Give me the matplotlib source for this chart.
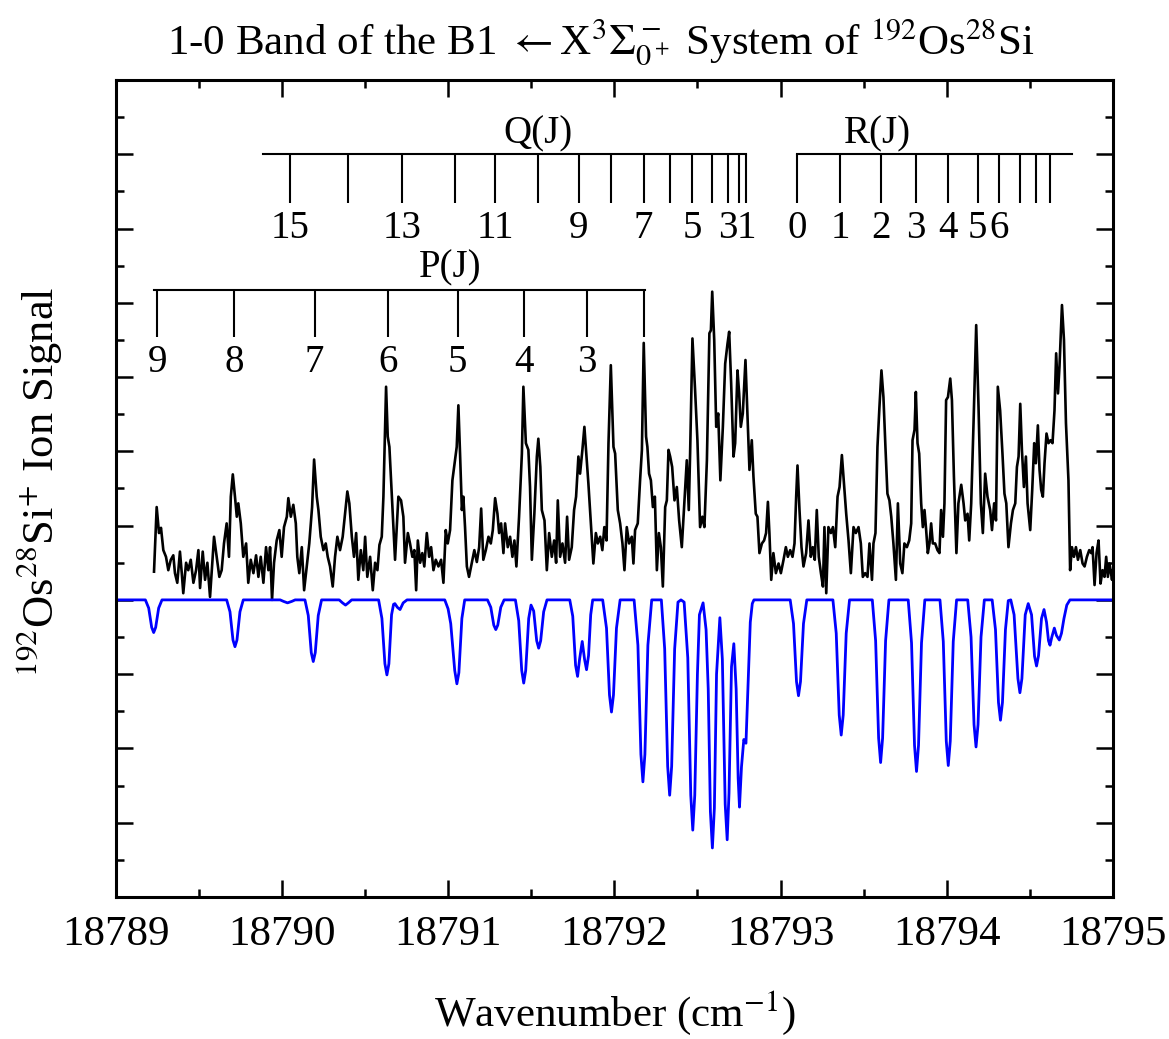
import matplotlib
matplotlib.use("Agg")
import matplotlib.pyplot as plt
from matplotlib.ticker import MultipleLocator, NullFormatter

EXP_X = [
    18789.231, 18789.247, 18789.261, 18789.273, 18789.287, 18789.303, 18789.317, 18789.332, 18789.347, 18789.357,
    18789.371, 18789.387, 18789.398, 18789.407, 18789.424, 18789.437, 18789.452, 18789.468, 18789.484, 18789.498,
    18789.508, 18789.524, 18789.538, 18789.552, 18789.568, 18789.580, 18789.592, 18789.608, 18789.624, 18789.638,
    18789.652, 18789.668, 18789.682, 18789.693, 18789.705, 18789.718, 18789.729, 18789.738, 18789.753, 18789.768,
    18789.785, 18789.798, 18789.813, 18789.829, 18789.845, 18789.859, 18789.873, 18789.889, 18789.905, 18789.919,
    18789.929, 18789.941, 18789.953, 18789.969, 18789.985, 18789.999, 18790.013, 18790.030, 18790.039, 18790.054,
    18790.069, 18790.084, 18790.093, 18790.105, 18790.120, 18790.134, 18790.150, 18790.165, 18790.182, 18790.194,
    18790.210, 18790.220, 18790.234, 18790.250, 18790.264, 18790.276, 18790.290, 18790.306, 18790.320, 18790.334,
    18790.350, 18790.366, 18790.380, 18790.394, 18790.406, 18790.421, 18790.434, 18790.447, 18790.460, 18790.475,
    18790.490, 18790.501, 18790.514, 18790.531, 18790.547, 18790.561, 18790.575, 18790.587, 18790.601, 18790.611,
    18790.627, 18790.637, 18790.647, 18790.661, 18790.681, 18790.701,
    18790.717, 18790.731, 18790.741, 18790.758, 18790.771, 18790.785, 18790.797, 18790.808, 18790.818, 18790.832,
    18790.845, 18790.857, 18790.872, 18790.886, 18790.898, 18790.912, 18790.926, 18790.942, 18790.958, 18790.972,
    18790.986, 18790.998, 18791.012, 18791.026, 18791.042, 18791.052, 18791.062, 18791.072, 18791.083, 18791.092,
    18791.102, 18791.113, 18791.126, 18791.143, 18791.158, 18791.173, 18791.187, 18791.199, 18791.212, 18791.227,
    18791.243, 18791.257, 18791.269, 18791.283, 18791.297, 18791.307, 18791.319, 18791.333, 18791.343, 18791.359,
    18791.373, 18791.387, 18791.399, 18791.411, 18791.427, 18791.444, 18791.453, 18791.468, 18791.483, 18791.493,
    18791.504, 18791.519, 18791.534, 18791.543, 18791.555, 18791.564, 18791.580, 18791.594, 18791.608, 18791.624,
    18791.638, 18791.650, 18791.660, 18791.674, 18791.688, 18791.704, 18791.716, 18791.728, 18791.744, 18791.758,
    18791.770, 18791.784, 18791.794, 18791.808, 18791.820, 18791.830, 18791.844, 18791.859, 18791.874, 18791.889,
    18791.901, 18791.915, 18791.928, 18791.940, 18791.953, 18791.965, 18791.979, 18791.995, 18792.005, 18792.021,
    18792.035, 18792.049, 18792.061, 18792.075, 18792.089, 18792.105, 18792.115, 18792.125, 18792.141, 18792.155,
    18792.166, 18792.177,
    18792.191, 18792.199, 18792.209, 18792.220, 18792.232, 18792.244, 18792.256, 18792.268, 18792.280, 18792.292,
    18792.306, 18792.316, 18792.326, 18792.336, 18792.348, 18792.362, 18792.376, 18792.390, 18792.406, 18792.420,
    18792.436, 18792.448, 18792.456, 18792.470, 18792.486, 18792.500, 18792.516, 18792.530, 18792.542, 18792.557,
    18792.572, 18792.581, 18792.589, 18792.601, 18792.613, 18792.625, 18792.638, 18792.653, 18792.667, 18792.681,
    18792.691, 18792.703, 18792.717, 18792.727, 18792.741, 18792.751, 18792.761, 18792.773, 18792.789, 18792.801,
    18792.813, 18792.827, 18792.837, 18792.851, 18792.861, 18792.873, 18792.888, 18792.901, 18792.913, 18792.924,
    18792.933, 18792.944, 18792.957, 18792.972, 18792.988, 18793.002, 18793.018, 18793.032, 18793.044, 18793.058,
    18793.072, 18793.084, 18793.094, 18793.102, 18793.114, 18793.126, 18793.138, 18793.154, 18793.168, 18793.182,
    18793.194, 18793.206, 18793.218, 18793.230, 18793.243, 18793.255, 18793.264, 18793.275, 18793.288, 18793.303,
    18793.315, 18793.329, 18793.343, 18793.355, 18793.369, 18793.383, 18793.395, 18793.409, 18793.423, 18793.439,
    18793.453, 18793.469, 18793.483, 18793.495, 18793.509, 18793.523, 18793.535, 18793.550, 18793.559, 18793.571,
    18793.583, 18793.595, 18793.607, 18793.619, 18793.631, 18793.643, 18793.655,
    18793.666, 18793.679, 18793.694, 18793.706, 18793.720, 18793.733, 18793.745, 18793.760, 18793.774, 18793.786,
    18793.794, 18793.806, 18793.814, 18793.824, 18793.834, 18793.846, 18793.856, 18793.866, 18793.876, 18793.886,
    18793.896, 18793.906, 18793.916, 18793.930, 18793.944, 18793.956, 18793.966, 18793.977, 18793.986, 18793.996,
    18794.007, 18794.021, 18794.031, 18794.043, 18794.058, 18794.070, 18794.087, 18794.101, 18794.111, 18794.125,
    18794.135, 18794.147, 18794.161, 18794.177, 18794.191, 18794.205, 18794.217, 18794.231, 18794.245, 18794.261,
    18794.272, 18794.285, 18794.296, 18794.307, 18794.321, 18794.335, 18794.347, 18794.358, 18794.371, 18794.386,
    18794.398, 18794.412, 18794.422, 18794.432, 18794.442, 18794.452, 18794.464, 18794.476, 18794.486, 18794.502,
    18794.514, 18794.526, 18794.536, 18794.548, 18794.558, 18794.568, 18794.578, 18794.588, 18794.600, 18794.612,
    18794.624, 18794.636, 18794.648, 18794.658, 18794.669, 18794.678, 18794.693, 18794.705, 18794.717, 18794.732,
    18794.742, 18794.753, 18794.765, 18794.777, 18794.789, 18794.803, 18794.817, 18794.829, 18794.843, 18794.857,
    18794.869, 18794.877, 18794.889, 18794.901, 18794.913, 18794.925, 18794.937, 18794.949, 18794.959, 18794.969,
    18794.979, 18794.994, 18795.000,
]
EXP_Y = [
    4.38, 5.25, 4.90, 4.97, 4.67, 4.58, 4.40, 4.54, 4.60, 4.36,
    4.23, 4.65, 4.36, 4.09, 4.50, 4.40, 4.54, 4.23, 4.40, 4.67,
    4.16, 4.65, 4.27, 4.50, 4.04, 4.45, 4.85, 4.58, 4.31, 4.40,
    4.76, 5.03, 4.58, 5.39, 5.69, 5.39, 5.12, 5.30, 5.03, 4.58,
    4.76, 4.23, 4.54, 4.36, 4.60, 4.31, 4.58, 4.23, 4.71, 4.40,
    4.71, 4.00, 4.50, 4.80, 4.94, 4.58, 4.98, 5.12, 5.37, 5.12,
    5.28, 5.03, 4.58, 4.36, 4.71, 4.13, 4.45, 4.76, 5.25, 5.89,
    5.39, 5.21, 4.85, 4.67, 4.76, 4.58, 4.45, 4.18, 4.58, 4.85,
    4.67, 4.85, 5.16, 5.46, 5.30, 4.85, 4.58, 4.90, 4.27, 4.67,
    4.40, 4.85, 4.31, 4.58, 4.13, 4.50, 4.40, 4.74, 4.85, 5.39,
    6.87, 6.20, 6.06, 5.43, 4.54, 5.39,
    5.34, 5.12, 4.50, 4.90, 4.76, 4.58, 4.67, 4.13, 4.80, 4.50,
    4.63, 4.45, 4.90, 4.58, 4.71, 4.40, 4.54, 4.45, 4.54, 4.23,
    4.94, 4.76, 4.94, 5.61, 5.88, 6.06, 6.62, 5.97, 5.21, 5.39,
    4.98, 4.45, 4.31, 4.50, 4.67, 4.51, 4.71, 5.23, 4.54, 4.67,
    4.85, 4.76, 4.94, 5.37, 5.16, 4.90, 5.03, 4.63, 5.03, 4.71,
    4.85, 4.58, 4.80, 4.45, 5.12, 5.97, 6.87, 6.11, 6.02, 5.52,
    4.54, 5.16, 5.93, 6.17, 5.79, 5.21, 5.07, 4.40, 4.90, 4.58,
    4.80, 4.50, 5.34, 4.58, 4.76, 4.50, 5.12, 4.54, 4.71, 5.21,
    5.39, 5.93, 5.70, 6.02, 6.33, 6.02, 5.57, 5.03, 4.49, 4.90,
    4.76, 4.85, 4.67, 4.98, 4.80, 6.11, 7.16, 6.06, 5.97, 5.21,
    5.03, 4.76, 4.40, 4.98, 4.76, 4.85, 4.49, 4.94, 5.03, 5.61,
    6.02, 7.46,
    6.20, 6.06, 5.70, 5.61, 5.25, 5.39, 4.40, 4.90, 4.71, 4.18,
    5.25, 5.34, 6.02, 5.93, 5.79, 5.34, 5.52, 5.07, 4.71, 5.25,
    5.88, 5.21, 5.97, 7.52, 6.82, 6.15, 4.98, 5.12, 4.98, 5.88,
    7.59, 7.63, 8.15, 7.50, 6.33, 6.51, 5.61, 6.33, 7.18, 7.45,
    7.61, 6.91, 5.93, 6.11, 7.09, 6.78, 6.33, 6.51, 7.23, 6.51,
    5.75, 6.15, 5.66, 5.16, 5.12, 4.63, 4.76, 4.80, 4.90, 5.32,
    4.90, 4.27, 4.63, 4.36, 4.49, 4.36, 4.54, 4.71, 4.58, 4.67,
    4.58, 4.76, 5.39, 5.81, 5.21, 4.71, 4.45, 4.63, 5.07, 4.58,
    4.71, 4.54, 5.21, 4.58, 4.36, 4.18, 4.98, 4.09, 4.98, 4.90,
    4.98, 4.71, 5.39, 5.52, 5.95, 5.52, 5.16, 4.80, 4.36, 4.98,
    4.90, 4.98, 4.76, 4.31, 4.36, 4.31, 4.76, 4.27, 4.76, 4.90,
    6.06, 6.60, 7.09, 6.73, 6.06, 5.43, 5.34,
    5.12, 4.76, 4.27, 5.30, 4.49, 4.36, 4.76, 4.71, 4.80, 5.03,
    6.15, 6.29, 6.80, 6.11, 5.97, 5.30, 4.98, 5.21, 4.94, 4.63,
    4.76, 5.03, 4.76, 4.76, 4.67, 4.63, 5.21, 4.85, 5.30, 6.69,
    6.73, 6.98, 6.69, 5.66, 4.63, 5.30, 5.55, 5.30, 5.07, 5.16,
    4.80, 5.30, 6.38, 7.70, 6.60, 5.30, 4.90, 5.70, 5.39, 5.21,
    4.94, 5.30, 5.07, 6.87, 6.55, 5.97, 5.43, 5.30, 4.71, 5.03,
    5.21, 5.30, 5.79, 5.93, 6.64, 6.02, 5.52, 5.93, 5.30, 4.94,
    5.48, 6.11, 5.84, 6.35, 5.75, 5.48, 5.39, 5.84, 6.24, 6.11,
    6.15, 6.11, 6.55, 7.32, 6.78, 7.14, 7.97, 7.50, 6.38, 5.61,
    4.40, 4.71, 4.58, 4.71, 4.54, 4.67, 4.49, 4.45, 4.58, 4.67,
    4.63, 4.71, 4.20, 4.63, 4.80, 4.22, 4.40, 4.31, 4.58, 4.31,
    4.49, 4.27, 4.40,
]

# simulated spectrum, drawn inverted below the experimental one
SIM_X = [
    18789.000, 18789.179, 18789.199, 18789.217, 18789.229, 18789.241, 18789.259, 18789.279,
    18789.668, 18789.688, 18789.706, 18789.718, 18789.730, 18789.748, 18789.768,
    18789.990, 18790.010, 18790.034, 18790.060, 18790.080,
    18790.139, 18790.159, 18790.177, 18790.189, 18790.201, 18790.219, 18790.239,
    18790.345, 18790.365, 18790.383, 18790.400, 18790.420,
    18790.582, 18790.602, 18790.620, 18790.632, 18790.644, 18790.660, 18790.672, 18790.680,
    18790.695, 18790.711, 18790.730, 18790.753,
    18790.980, 18791.000, 18791.016, 18791.040, 18791.053, 18791.065, 18791.083, 18791.100,
    18791.237, 18791.257, 18791.275, 18791.287, 18791.299, 18791.317, 18791.337,
    18791.405, 18791.425, 18791.443, 18791.455, 18791.467, 18791.485, 18791.499,
    18791.515, 18791.533, 18791.545, 18791.557, 18791.575, 18791.595,
    18791.732, 18791.750, 18791.767, 18791.779, 18791.791, 18791.807, 18791.821, 18791.833,
    18791.845, 18791.858, 18791.870,
    18791.930, 18791.953, 18791.971, 18791.983, 18791.995, 18792.013, 18792.035,
    18792.119, 18792.142, 18792.160, 18792.172, 18792.184, 18792.202, 18792.225,
    18792.283, 18792.303, 18792.321, 18792.333, 18792.345, 18792.363, 18792.383, 18792.401,
    18792.420, 18792.442, 18792.460, 18792.472, 18792.484, 18792.500, 18792.512, 18792.534,
    18792.552, 18792.565, 18792.578, 18792.590, 18792.602, 18792.615, 18792.635,
    18792.650, 18792.667, 18792.679, 18792.690, 18792.705, 18792.719,
    18792.733, 18792.745, 18792.753, 18792.765, 18792.779, 18792.792, 18792.805, 18792.818,
    18792.830, 18792.840,
    18793.058, 18793.078, 18793.096, 18793.108, 18793.120, 18793.138, 18793.158,
    18793.315, 18793.335, 18793.353, 18793.365, 18793.377, 18793.395, 18793.415,
    18793.552, 18793.572, 18793.590, 18793.602, 18793.614, 18793.632, 18793.652,
    18793.768, 18793.788, 18793.806, 18793.818, 18793.830, 18793.848, 18793.868,
    18793.959, 18793.979, 18793.997, 18794.009, 18794.021, 18794.039, 18794.059,
    18794.126, 18794.146, 18794.164, 18794.176, 18794.188, 18794.206, 18794.226,
    18794.273, 18794.293, 18794.311, 18794.323, 18794.335, 18794.353, 18794.370, 18794.385,
    18794.405, 18794.428, 18794.440, 18794.452, 18794.472, 18794.490,
    18794.510, 18794.528, 18794.540, 18794.552, 18794.570, 18794.585,
    18794.600, 18794.612, 18794.621, 18794.632, 18794.647,
    18794.660, 18794.677, 18794.690, 18794.705, 18794.722, 18794.741, 18795.000,
]
SIM_Y = [
    4.00, 4.00, 3.89, 3.63, 3.56, 3.63, 3.89, 4.00,
    4.00, 3.84, 3.46, 3.37, 3.46, 3.84, 4.00,
    4.00, 3.98, 3.96, 3.98, 4.00,
    4.00, 3.79, 3.29, 3.17, 3.29, 3.79, 4.00,
    4.00, 3.96, 3.93, 3.96, 4.00,
    4.00, 3.75, 3.14, 2.99, 3.14, 3.80, 3.94, 3.95,
    3.90, 3.87, 3.96, 4.00,
    4.00, 3.88, 3.68, 3.05, 2.87, 3.02, 3.75, 4.00,
    4.00, 3.90, 3.66, 3.60, 3.66, 3.90, 4.00,
    4.00, 3.72, 3.05, 2.88, 3.05, 3.75, 3.93,
    3.85, 3.45, 3.35, 3.45, 3.84, 4.00,
    4.00, 3.78, 3.12, 2.97, 3.20, 3.44, 3.20, 3.06,
    3.25, 3.80, 4.00,
    4.00, 3.62, 2.72, 2.49, 2.72, 3.62, 4.00,
    4.00, 3.39, 1.92, 1.55, 1.92, 3.39, 4.00,
    4.00, 3.34, 1.76, 1.37, 1.76, 3.34, 3.97, 4.00,
    3.97, 3.22, 1.37, 0.90, 1.37, 3.00, 3.80, 3.96,
    3.60, 2.80, 1.15, 0.66, 1.20, 3.00, 3.76,
    3.20, 1.25, 0.77, 1.40, 3.10, 3.41,
    2.80, 1.60, 1.21, 1.75, 2.12, 2.07, 2.90, 3.70,
    3.95, 4.00,
    4.00, 3.68, 2.90, 2.71, 2.90, 3.68, 4.00,
    4.00, 3.55, 2.45, 2.18, 2.45, 3.55, 4.00,
    4.00, 3.45, 2.14, 1.81, 2.14, 3.45, 4.00,
    4.00, 3.42, 2.04, 1.69, 2.04, 3.42, 4.00,
    4.00, 3.44, 2.10, 1.77, 2.10, 3.44, 4.00,
    4.00, 3.50, 2.32, 2.02, 2.32, 3.50, 4.00,
    4.00, 3.60, 2.62, 2.38, 2.62, 3.60, 3.99, 4.00,
    3.80, 2.94, 2.75, 2.94, 3.80, 3.95,
    3.80, 3.24, 3.11, 3.25, 3.75, 3.87,
    3.70, 3.45, 3.39, 3.50, 3.62,
    3.52, 3.46, 3.55, 3.75, 3.93, 4.00, 4.00,
]

# rotational line assignments
P_J = [9, 8, 7, 6, 5, 4, 3, 2]
P_POS = [18789.250, 18789.712, 18790.197, 18790.638, 18791.057, 18791.457, 18791.833, 18792.177]
P_LABELED = [9, 8, 7, 6, 5, 4, 3]

Q_J = [15, 14, 13, 12, 11, 10, 9, 8, 7, 6, 5, 4, 3, 2, 1]
Q_POS = [18790.047, 18790.398, 18790.722, 18791.040, 18791.283, 18791.541, 18791.786, 18791.983,
         18792.176, 18792.336, 18792.470, 18792.590, 18792.681, 18792.753, 18792.793]
Q_LABELED = [15, 13, 11, 9, 7, 5, 3, 1]

R_J = [0, 1, 2, 3, 4, 5, 6, 7, 8, 9]
R_POS = [18793.102, 18793.359, 18793.604, 18793.812, 18794.009, 18794.185, 18794.317,
         18794.442, 18794.538, 18794.618]
R_LABELED = [0, 1, 2, 3, 4, 5, 6]

XTICKS = [18789, 18790, 18791, 18792, 18793, 18794, 18795]

plt.rcParams["font.family"] = ["Liberation Serif", "DejaVu Serif"]
plt.rcParams["mathtext.fontset"] = "stix"

fig = plt.figure(figsize=(11.69, 10.39), dpi=100)
ax = fig.add_axes([0.0989, 0.1367, 0.8532, 0.7863])

ax.plot(EXP_X, EXP_Y, color="black", lw=1.9, solid_joinstyle="round")
ax.plot(SIM_X, SIM_Y, color="#0000ff", lw=2.0, solid_joinstyle="round")


def branch(js, pos, labeled, y_line, x_from, x_to, tick_len, y_lab, name, name_x, name_y):
    ax.plot([x_from, x_to], [y_line, y_line], color="black", lw=1.5)
    ax.vlines(pos, y_line - tick_len, y_line, color="black", lw=1.5)
    for j, p in zip(js, pos):
        if j in labeled:
            ax.text(p, y_lab, str(j), ha="center", va="center", fontsize=28)
    ax.text(name_x, name_y, name, ha="center", va="center", fontsize=28)


branch(Q_J, Q_POS, Q_LABELED, 10.0, 18789.884, 18792.793, 0.66, 9.0, "Q(J)", 18791.54, 10.28)
branch(R_J, R_POS, R_LABELED, 10.0, 18793.102, 18794.753, 0.66, 9.0, "R(J)", 18793.58, 10.28)
branch(P_J, P_POS, P_LABELED, 8.17, 18789.229, 18792.183, 0.63, 7.20, "P(J)", 18791.01, 8.47)

ax.set_xlim(18789, 18795)
ax.set_ylim(0, 11)
ax.set_xticks(XTICKS, [str(t) for t in XTICKS])
ax.xaxis.set_minor_locator(MultipleLocator(0.5))
ax.yaxis.set_major_locator(MultipleLocator(1))
ax.yaxis.set_minor_locator(MultipleLocator(0.5))
ax.yaxis.set_major_formatter(NullFormatter())
ax.tick_params(which="both", direction="in", top=True, right=True, width=1.8)
ax.tick_params(which="major", length=12, labelsize=31, pad=13)
ax.tick_params(which="minor", length=6)
for s in ax.spines.values():
    s.set_linewidth(2.2)

fig.text(0.514, 0.9596,
         r"1-0 Band of the B1 $\leftarrow$X$^3\Sigma^-_{0^+}$ System of $^{192}$Os$^{28}$Si",
         ha="center", va="center", fontsize=31)
fig.text(0.526, 0.025, r"Wavenumber (cm$^{-1}$)", ha="center", va="center", fontsize=31)
fig.text(0.033, 0.536, r"$^{192}$Os$^{28}$Si$^{+}$ Ion Signal", ha="center", va="center",
         rotation=90, fontsize=32)

fig.savefig("out.png", dpi=100)
